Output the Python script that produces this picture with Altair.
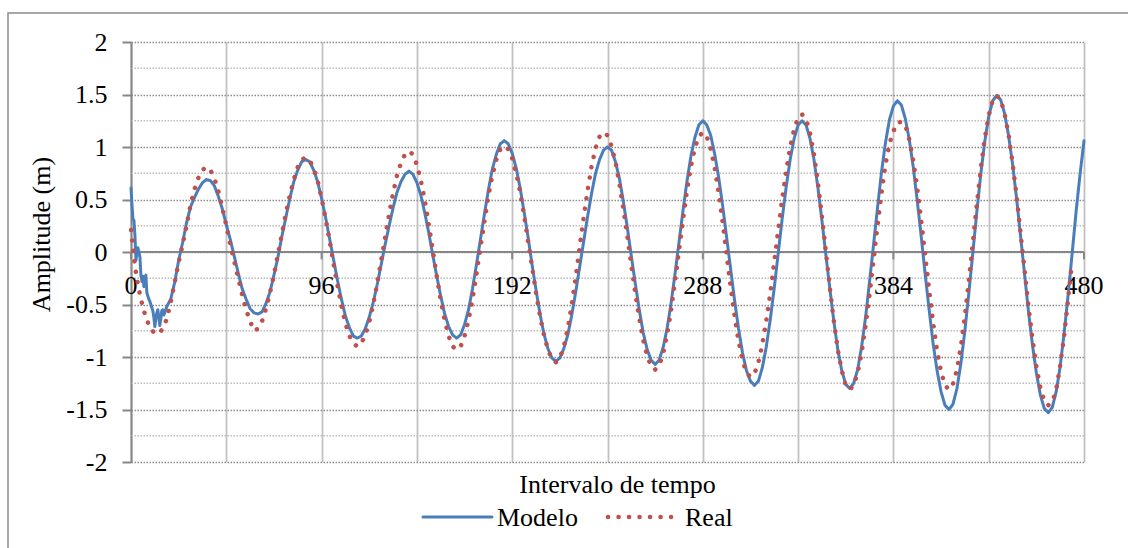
import altair as alt
import pandas as pd

# ---- Modelo: transient start sampled every half step, then every 2 steps ----
intervalo_modelo_ini = [i / 2 for i in range(37)]          # 0 .. 18
modelo_ini = [
    0.61, 0.45, 0.31, 0.30, 0.15, -0.08, 0.00, 0.04, 0.00, -0.05,
    -0.22, -0.28, -0.23, -0.33, -0.25, -0.22, -0.39, -0.42, -0.45, -0.47,
    -0.50, -0.53, -0.56, -0.62, -0.71, -0.64, -0.58, -0.55, -0.62, -0.70,
    -0.64, -0.56, -0.55, -0.60, -0.58, -0.55, -0.52,
]
intervalo_modelo = list(range(20, 481, 2))                 # 20 .. 480
modelo = [
    -0.45, -0.29, -0.08, 0.09, 0.28, 0.43, 0.52, 0.60, 0.66, 0.69, 0.68, 0.63,
    0.53, 0.41, 0.26, 0.12, -0.04, -0.20, -0.35, -0.45, -0.54, -0.58, -0.59,
    -0.57, -0.49, -0.38, -0.22, -0.05, 0.15, 0.33, 0.51, 0.67, 0.78, 0.86, 0.88,
    0.86, 0.78, 0.67, 0.51, 0.33, 0.13, -0.07, -0.27, -0.45, -0.61, -0.72, -0.80, -0.82,
    -0.80, -0.73, -0.62, -0.48, -0.31, -0.12, 0.07, 0.25, 0.42, 0.57, 0.67, 0.74, 0.77,
    0.74, 0.66, 0.54, 0.37, 0.18, -0.03, -0.23, -0.42, -0.59, -0.71, -0.79, -0.82,
    -0.79, -0.69, -0.55, -0.35, -0.12, 0.12, 0.36, 0.59, 0.79, 0.93, 1.03, 1.06,
    1.03, 0.94, 0.80, 0.61, 0.38, 0.14, -0.12, -0.36, -0.59, -0.78, -0.92, -1.01, -1.04,
    -1.01, -0.92, -0.79, -0.60, -0.38, -0.14, 0.10, 0.34, 0.56, 0.75, 0.88, 0.97, 1.00,
    0.97, 0.86, 0.70, 0.48, 0.23, -0.04, -0.30, -0.55, -0.77, -0.93, -1.03, -1.07,
    -1.03, -0.91, -0.73, -0.49, -0.21, 0.09, 0.39, 0.67, 0.91, 1.09, 1.21, 1.25,
    1.21, 1.11, 0.93, 0.71, 0.44, 0.14, -0.16, -0.46, -0.73, -0.96, -1.13, -1.23, -1.27,
    -1.23, -1.10, -0.90, -0.64, -0.34, -0.01, 0.32, 0.62, 0.88, 1.08, 1.21, 1.25,
    1.21, 1.08, 0.88, 0.61, 0.30, -0.03, -0.35, -0.66, -0.93, -1.13, -1.26, -1.30,
    -1.25, -1.12, -0.90, -0.62, -0.28, 0.07, 0.42, 0.76, 1.04, 1.26, 1.39, 1.44,
    1.40, 1.27, 1.07, 0.81, 0.49, 0.15, -0.21, -0.55, -0.87, -1.13, -1.33, -1.46, -1.50,
    -1.45, -1.30, -1.06, -0.75, -0.39, -0.01, 0.38, 0.74, 1.05, 1.29, 1.44, 1.49,
    1.45, 1.32, 1.11, 0.84, 0.52, 0.16, -0.20, -0.56, -0.88, -1.15, -1.36, -1.49, -1.53,
    -1.48, -1.33, -1.09, -0.77, -0.41, -0.02, 0.38, 0.74, 1.06,
]

# ---- Real: every 2 steps ----
intervalo_real = list(range(0, 475, 2))                    # 0 .. 474
real = [
    0.21, -0.14, -0.36, -0.53, -0.65, -0.74, -0.77, -0.78, -0.73, -0.64, -0.48, -0.29,
    -0.10, 0.07, 0.25, 0.45, 0.60, 0.71, 0.78, 0.81, 0.78, 0.70, 0.58, 0.42,
    0.25, 0.07, -0.09, -0.25, -0.41, -0.55, -0.66, -0.75,
    -0.73, -0.66, -0.54, -0.39, -0.22, -0.02, 0.17, 0.37, 0.54, 0.69, 0.81, 0.88, 0.90,
    0.87, 0.80, 0.68, 0.51, 0.32, 0.11, -0.11, -0.32, -0.51, -0.68, -0.80, -0.87, -0.90,
    -0.87, -0.79, -0.67, -0.50, -0.30, -0.08, 0.14, 0.36, 0.56, 0.73, 0.85, 0.93, 0.96,
    0.93, 0.83, 0.68, 0.49, 0.26, 0.02, -0.23, -0.46, -0.65, -0.80, -0.90, -0.93,
    -0.90, -0.80, -0.65, -0.45, -0.21, 0.04, 0.29, 0.53, 0.73, 0.88, 0.98, 1.01,
    0.98, 0.89, 0.75, 0.57, 0.35, 0.10, -0.14, -0.39, -0.61, -0.79, -0.93, -1.02, -1.05,
    -1.01, -0.90, -0.73, -0.50, -0.24, 0.05, 0.33, 0.59, 0.82, 0.99, 1.10, 1.14,
    1.11, 1.01, 0.86, 0.65, 0.41, 0.15, -0.13, -0.39, -0.63, -0.84, -0.99, -1.09, -1.12,
    -1.08, -0.97, -0.79, -0.56, -0.28, 0.01, 0.30, 0.58, 0.81, 0.99, 1.10, 1.14,
    1.10, 0.98, 0.80, 0.56, 0.28, -0.03, -0.33, -0.61, -0.85, -1.03, -1.15, -1.19,
    -1.16, -1.05, -0.88, -0.65, -0.39, -0.09, 0.21, 0.51, 0.77, 1.00, 1.17, 1.28, 1.31,
    1.27, 1.13, 0.93, 0.66, 0.34, 0.00, -0.34, -0.66, -0.93, -1.13, -1.27, -1.31,
    -1.27, -1.15, -0.96, -0.70, -0.40, -0.08, 0.25, 0.56, 0.83, 1.03, 1.15, 1.23, 1.24,
    1.21, 1.07, 0.87, 0.61, 0.30, -0.03, -0.36, -0.67, -0.94, -1.14, -1.27, -1.31,
    -1.26, -1.12, -0.90, -0.61, -0.27, 0.09, 0.45, 0.79, 1.08, 1.30, 1.44, 1.49,
    1.45, 1.32, 1.12, 0.85, 0.54, 0.19, -0.16, -0.51, -0.82, -1.09, -1.29, -1.42, -1.46,
    -1.43, -1.31, -1.08, -0.80, -0.45, -0.10,
]

# ---- axes ----
rotulos_x = [0, 96, 192, 288, 384, 480]
grade_x = list(range(0, 481, 48))
valores_y = [-2, -1.5, -1, -0.5, 0, 0.5, 1, 1.5, 2]
grade_y_menor = [-1.75, -1.25, -0.75, -0.25, 0.25, 0.75, 1.25, 1.75]

series = ["Modelo", "Real"]
cores = ["#4a7ebb", "#c0504d"]
tracos = [[1, 0], [0.1, 10.4]]
espessuras = [3, 4.5]

FONTE = "'Liberation Serif', 'Times New Roman', 'DejaVu Serif', serif"
TAM = 26
W, H = 953, 420

df_modelo = pd.DataFrame({"t": intervalo_modelo_ini + intervalo_modelo,
                          "v": modelo_ini + modelo, "serie": "Modelo"})
df_real = pd.DataFrame({"t": intervalo_real, "v": real, "serie": "Real"})

esc_x = alt.Scale(domain=[0, 480], nice=False, zero=False)
esc_y = alt.Scale(domain=[-2, 2], nice=False)

eixo_x = alt.Axis(values=grade_x, labels=False, ticks=False, domain=False,
                  grid=True, gridColor="#c0c0c0", gridWidth=1.75,
                  title="Intervalo de tempo", titleFont=FONTE, titleFontSize=TAM,
                  titleFontWeight="normal", titleColor="black",
                  titleX=486, titleY=30, titleBaseline="alphabetic")
eixo_y = alt.Axis(values=valores_y, grid=True, gridColor="#8c8c8c",
                  gridDash=[1.5, 1.5], gridWidth=1.5,
                  domainColor="#868686", domainWidth=2,
                  tickColor="#868686", tickWidth=2, tickSize=9,
                  labelFont=FONTE, labelFontSize=TAM, labelColor="black",
                  labelPadding=15,
                  labelExpr="(datum.value < 0 ? '-' : '') + format(abs(datum.value), '')",
                  title="Amplitude (m)", titleFont=FONTE, titleFontSize=TAM,
                  titleFontWeight="normal", titleColor="black",
                  titleAngle=270, titleX=-82, titleY=192,
                  titleAlign="center", titleBaseline="alphabetic")

X = alt.X("t:Q", scale=esc_x, axis=eixo_x)
Y = alt.Y("v:Q", scale=esc_y, axis=eixo_y)

cor = alt.Color("serie:N", scale=alt.Scale(domain=series, range=cores), legend=None)
traco = alt.StrokeDash("serie:N", scale=alt.Scale(domain=series, range=tracos), legend=None)
esp = alt.StrokeWidth("serie:N", scale=alt.Scale(domain=series, range=espessuras), legend=None)


def linha(df):
    return alt.Chart(df).mark_line(strokeCap="round", strokeJoin="round").encode(
        x=X, y=Y, color=cor, strokeDash=traco, strokeWidth=esp)


grade_menor = alt.Chart(pd.DataFrame({"v": grade_y_menor})).mark_rule(
    color="#bdbdbd", strokeDash=[1.5, 1.5], strokeWidth=1.5).encode(y=Y)

linha_zero = alt.Chart(pd.DataFrame({"v": [0]})).mark_rule(
    color="#868686", strokeWidth=2).encode(y=Y)

marcas_zero = alt.Chart(pd.DataFrame({"t": rotulos_x})).mark_rule(
    color="#868686", strokeWidth=2).encode(x=X, y=alt.Y(datum=0, scale=esc_y),
                                          y2=alt.Y2(datum=-0.07))

texto_x = alt.Chart(pd.DataFrame({"t": rotulos_x})).mark_text(
    font=FONTE, fontSize=TAM, color="black", align="center",
    baseline="alphabetic", dy=42).encode(
    x=X, y=alt.Y(datum=0, scale=esc_y), text=alt.Text("t:Q", format="d"))

# legend below the plot: sample stroke followed by the series name
leg_pos = {"Modelo": (292, 361, 366), "Real": (477, 544, 554)}
legenda = []
for s in series:
    x0, x1, xt = leg_pos[s]
    d = pd.DataFrame({"serie": [s]})
    legenda.append(alt.Chart(d).mark_rule(strokeCap="round").encode(
        x=alt.value(x0), x2=alt.value(x1), y=alt.value(475),
        color=cor, strokeDash=traco, strokeWidth=esp))
    legenda.append(alt.Chart(d).mark_text(
        font=FONTE, fontSize=TAM, color="black", align="left",
        baseline="alphabetic").encode(
        x=alt.value(xt), y=alt.value(484), text="serie:N"))

moldura = alt.Chart(pd.DataFrame({"a": [0]})).mark_rect(
    filled=False, stroke="#8c8c8c", strokeWidth=1.5).encode(
    x=alt.value(-123), x2=alt.value(1010), y=alt.value(-29), y2=alt.value(520))

chart = alt.layer(
    grade_menor, linha_zero, marcas_zero, texto_x,
    linha(df_modelo), linha(df_real), *legenda, moldura
).properties(
    width=W, height=H,
    padding={"left": 131, "top": 42, "right": 44, "bottom": 86},
    autosize=alt.AutoSizeParams(type="none"),
    background="white",
).configure_view(stroke=None)

chart.save("out.html", embed_options={"renderer": "svg", "actions": False})
